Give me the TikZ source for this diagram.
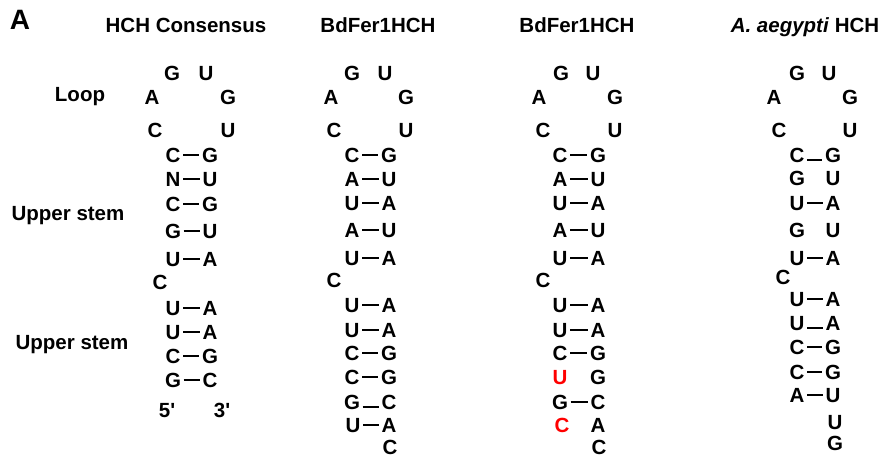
\documentclass[tikz,border=0pt]{standalone}
\usepackage{fontspec}
\setmainfont{Liberation Sans}
\newfontfamily\plainsans{Liberation Sans}
\begin{document}
\begin{tikzpicture}[x=1pt,y=-1pt,
  nt/.style={inner sep=0pt, text height=14.6pt, text depth=0pt, font=\fontsize{20.5}{22}\selectfont\bfseries},
  ttl/.style={nt},
  big/.style={inner sep=0pt, text height=20pt, text depth=0pt, font=\fontsize{28}{30}\selectfont\bfseries},
  bond/.style={line width=2pt, shorten >=2.5pt, shorten <=2.5pt},
  mut/.style={text=red}]
\useasboundingbox (0,0) rectangle (882,457);
\newcommand{\bpair}[6]{%
  \node[nt] (#1l) at (#2,#4) {#5};
  \node[nt] (#1r) at (#3,#4) {#6};
  \draw[bond] (#1l) -- (#1r);}
\newcommand{\lpair}[6]{%
  \node[nt] (#1l) at (#2,#4) {#5};
  \node[nt] (#1r) at (#3,#4) {#6};
  \draw[bond] ([yshift=-5pt]#1l.east) -- ([yshift=-5pt]#1r.west);}
\newcommand{\npair}[6]{%
  \node[nt] (#1l) at (#2,#4) {#5};
  \node[nt] (#1r) at (#3,#4) {#6};}
\newcommand{\loopset}[7]{%
  \node[nt] (#1g1) at (#2,73) {G};
  \node[nt] (#1u1) at (#3,73) {U};
  \node[nt] (#1a) at (#4,97) {A};
  \node[nt] (#1g2) at (#5,97) {G};
  \node[nt] (#1c) at (#6,130) {C};
  \node[nt] (#1u2) at (#7,130) {U};}

% panel label and titles
\node[big] (panelA) at (20,20) {A};
\node[ttl] (t1) at (186,25) {HCH Consensus};
\node[ttl] (t2) at (378,25) {BdFer1HCH};
\node[ttl] (t3) at (577,25) {BdFer1HCH};
\node[ttl] (t4) at (805,25) {\textit{A. aegypti} HCH};

% side labels
\node[nt] (lloop) at (80,94) {Loop};
\node[nt] (lup1) at (68,213) {Upper stem};
\node[nt] (lup2) at (72,342) {Upper stem};

% column 1
\loopset{a}{172}{206}{152}{228}{155}{228}
\bpair{a1}{173}{210}{155}{C}{G}
\bpair{a2}{173}{210}{179}{N}{U}
\bpair{a3}{173}{210}{204}{C}{G}
\bpair{a4}{173}{210}{231}{G}{U}
\bpair{a5}{173}{210}{259}{U}{A}
\node[nt] (abul) at (160,282) {C};
\bpair{a6}{173}{210}{308}{U}{A}
\bpair{a7}{173}{210}{332}{U}{A}
\bpair{a8}{173}{210}{356}{C}{G}
\bpair{a9}{173}{210}{380}{G}{C}
\node[nt] (a5p) at (167,410) {\plainsans\bfseries 5'};
\node[nt] (a3p) at (222,410) {\plainsans\bfseries 3'};

% column 2
\loopset{b}{352}{385}{331}{406}{334}{406}
\bpair{b1}{352}{389}{155}{C}{G}
\bpair{b2}{352}{389}{179}{A}{U}
\bpair{b3}{352}{389}{203}{U}{A}
\bpair{b4}{352}{389}{230}{A}{U}
\bpair{b5}{352}{389}{258}{U}{A}
\node[nt] (bbul) at (334,280) {C};
\bpair{b6}{352}{389}{305}{U}{A}
\bpair{b7}{352}{389}{330}{U}{A}
\bpair{b8}{352}{389}{353}{C}{G}
\bpair{b9}{352}{389}{377}{C}{G}
\lpair{b10}{352}{389}{402}{G}{C}
\bpair{b11}{353}{389}{425}{U}{A}
\node[nt] (bend) at (390,447) {C};

% column 3
\loopset{c}{561}{593}{539}{615}{543}{615}
\bpair{c1}{560}{598}{155}{C}{G}
\bpair{c2}{560}{598}{179}{A}{U}
\bpair{c3}{560}{598}{203}{U}{A}
\bpair{c4}{560}{598}{230}{A}{U}
\bpair{c5}{560}{598}{258}{U}{A}
\node[nt] (cbul) at (543,280) {C};
\bpair{c6}{560}{598}{305}{U}{A}
\bpair{c7}{560}{598}{330}{U}{A}
\bpair{c8}{560}{598}{353}{C}{G}
\npair{c9}{560}{598}{377}{\textcolor{red}{U}}{G}
\bpair{c10}{560}{598}{402}{G}{C}
\npair{c11}{562}{598}{425}{\textcolor{red}{C}}{A}
\node[nt] (cend) at (599,447) {C};

% column 4
\loopset{d}{797}{829}{774}{850}{779}{850}
\lpair{d1}{797}{833}{155}{C}{G}
\npair{d2}{797}{833}{178}{G}{U}
\bpair{d3}{797}{833}{203}{U}{A}
\npair{d4}{797}{833}{230}{G}{U}
\bpair{d5}{797}{833}{258}{U}{A}
\node[nt] (dbul) at (783,277) {C};
\bpair{d6}{797}{833}{299}{U}{A}
\lpair{d7}{797}{833}{323}{U}{A}
\bpair{d8}{797}{833}{347}{C}{G}
\bpair{d9}{797}{833}{372}{C}{G}
\bpair{d10}{797}{833}{395}{A}{U}
\node[nt] (dend1) at (835,422) {U};
\node[nt] (dend2) at (835,443) {G};
\end{tikzpicture}
\end{document}
